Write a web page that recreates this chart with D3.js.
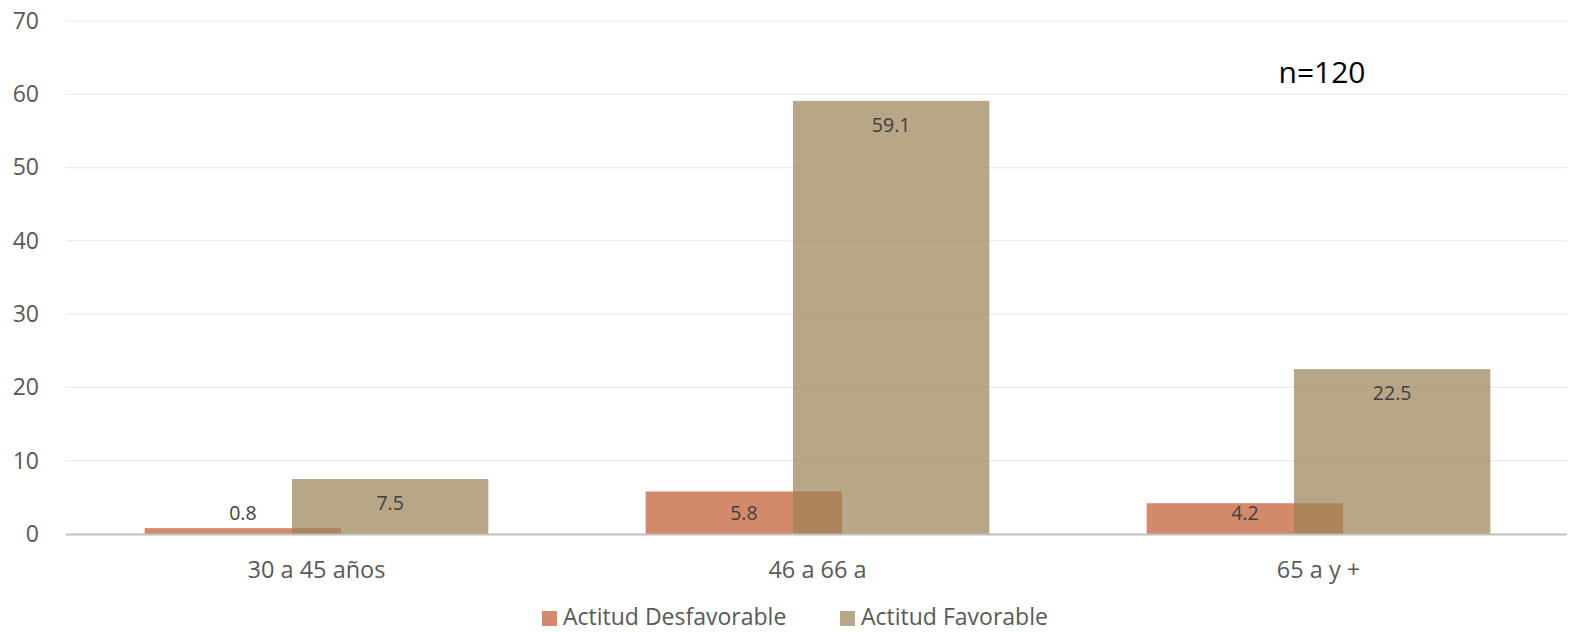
<!DOCTYPE html>
<html>
<head>
<meta charset="utf-8">
<script src="https://cdn.jsdelivr.net/npm/d3@7"></script>
<style>
  html, body { margin: 0; padding: 0; background: #fff; }
  svg { display: block; font-family: "Open Sans", sans-serif; }
</style>
</head>
<body>
<svg id="chart" width="1570" height="632"></svg>
<script>
// Age groups and the share (%) of each attitude within them
const categories = ["30 a 45 años", "46 a 66 a", "65 a y +"];
const seriesNames = ["Actitud Desfavorable", "Actitud Favorable"];
const desfavorable = [0.8, 5.8, 4.2];
const favorable = [7.5, 59.1, 22.5];
const yTicks = [0, 10, 20, 30, 40, 50, 60, 70];
const sampleNote = "n=120";

const svg = d3.select("#chart");
const plot = { left: 66, right: 1569, top: 21, bottom: 534 };

const x = d3.scaleBand().domain(categories).range([plot.left, plot.right]).padding(0);
const y = d3.scaleLinear().domain([0, 70]).range([plot.bottom, plot.top]);

// Bar geometry: two bars per group, overlapping by a quarter of a bar
const barW = x.bandwidth() * 0.392;
const step = barW * 0.75;
const groupW = barW + step;

// Gridlines
svg.append("g")
  .selectAll("line")
  .data(yTicks.filter(d => d > 0))
  .join("line")
  .attr("x1", plot.left).attr("x2", 1567)
  .attr("y1", d => y(d)).attr("y2", d => y(d))
  .attr("stroke", "#ebebeb").attr("stroke-width", 1.2);

// Y axis labels
const yAxis = d3.axisLeft(y).tickValues(yTicks).tickSize(0).tickPadding(0);
const gy = svg.append("g").attr("transform", `translate(${plot.left - 27},0)`).call(yAxis);
gy.select(".domain").remove();
gy.selectAll("text")
  .attr("font-family", "Open Sans, sans-serif")
  .attr("font-size", 23).attr("fill", "#595959");

const series = [
  { name: seriesNames[0], values: desfavorable, fill: "#d38a6a", opacity: 1, offset: 0 },
  { name: seriesNames[1], values: favorable, fill: "#9a8154", opacity: 0.7, offset: step }
];

series.forEach(s => {
  svg.append("g")
    .selectAll("rect")
    .data(categories)
    .join("rect")
    .attr("x", c => x(c) + x.bandwidth() / 2 - groupW / 2 + s.offset)
    .attr("width", barW)
    .attr("y", (c, i) => y(s.values[i]))
    .attr("height", (c, i) => y(0) - y(s.values[i]))
    .attr("fill", s.fill)
    .attr("fill-opacity", s.opacity);
});

// Value labels: just inside the top of the bar, but never lower than a fixed line above the baseline
series.forEach(s => {
  svg.append("g")
    .selectAll("text")
    .data(categories)
    .join("text")
    .attr("x", c => x(c) + x.bandwidth() / 2 - groupW / 2 + s.offset + barW / 2)
    .attr("y", (c, i) => Math.min(y(s.values[i]) + 31, y(0) - 14))
    .attr("text-anchor", "middle")
    .attr("font-size", 19.5)
    .attr("fill", "#404040")
    .text((c, i) => s.values[i].toFixed(1));
});

// Zero baseline
svg.append("line")
  .attr("x1", plot.left).attr("x2", 1567)
  .attr("y1", y(0) + 0.5).attr("y2", y(0) + 0.5)
  .attr("stroke", "#bfbfbf").attr("stroke-width", 2);

// Category labels
const xAxis = d3.axisBottom(x).tickSize(0).tickPadding(0);
const gx = svg.append("g").attr("transform", `translate(0,${plot.bottom + 44})`).call(xAxis);
gx.select(".domain").remove();
gx.selectAll("text")
  .attr("dy", 0)
  .attr("font-family", "Open Sans, sans-serif")
  .attr("font-size", 23.5).attr("fill", "#595959");

// Sample size note
svg.append("text")
  .attr("x", 1322).attr("y", 83)
  .attr("text-anchor", "middle")
  .attr("font-size", 30).attr("fill", "#000")
  .text(sampleNote);

// Legend
const legendItems = [
  { name: seriesNames[0], color: "#d38a6a", x: 542 },
  { name: seriesNames[1], color: "#b8a788", x: 840 }
];
const lg = svg.append("g");
legendItems.forEach(it => {
  lg.append("rect").attr("x", it.x).attr("y", 611).attr("width", 15).attr("height", 15).attr("fill", it.color);
  lg.append("text").attr("x", it.x + 21).attr("y", 625)
    .attr("font-size", 23).attr("fill", "#595959").text(it.name);
});
</script>
</body>
</html>
